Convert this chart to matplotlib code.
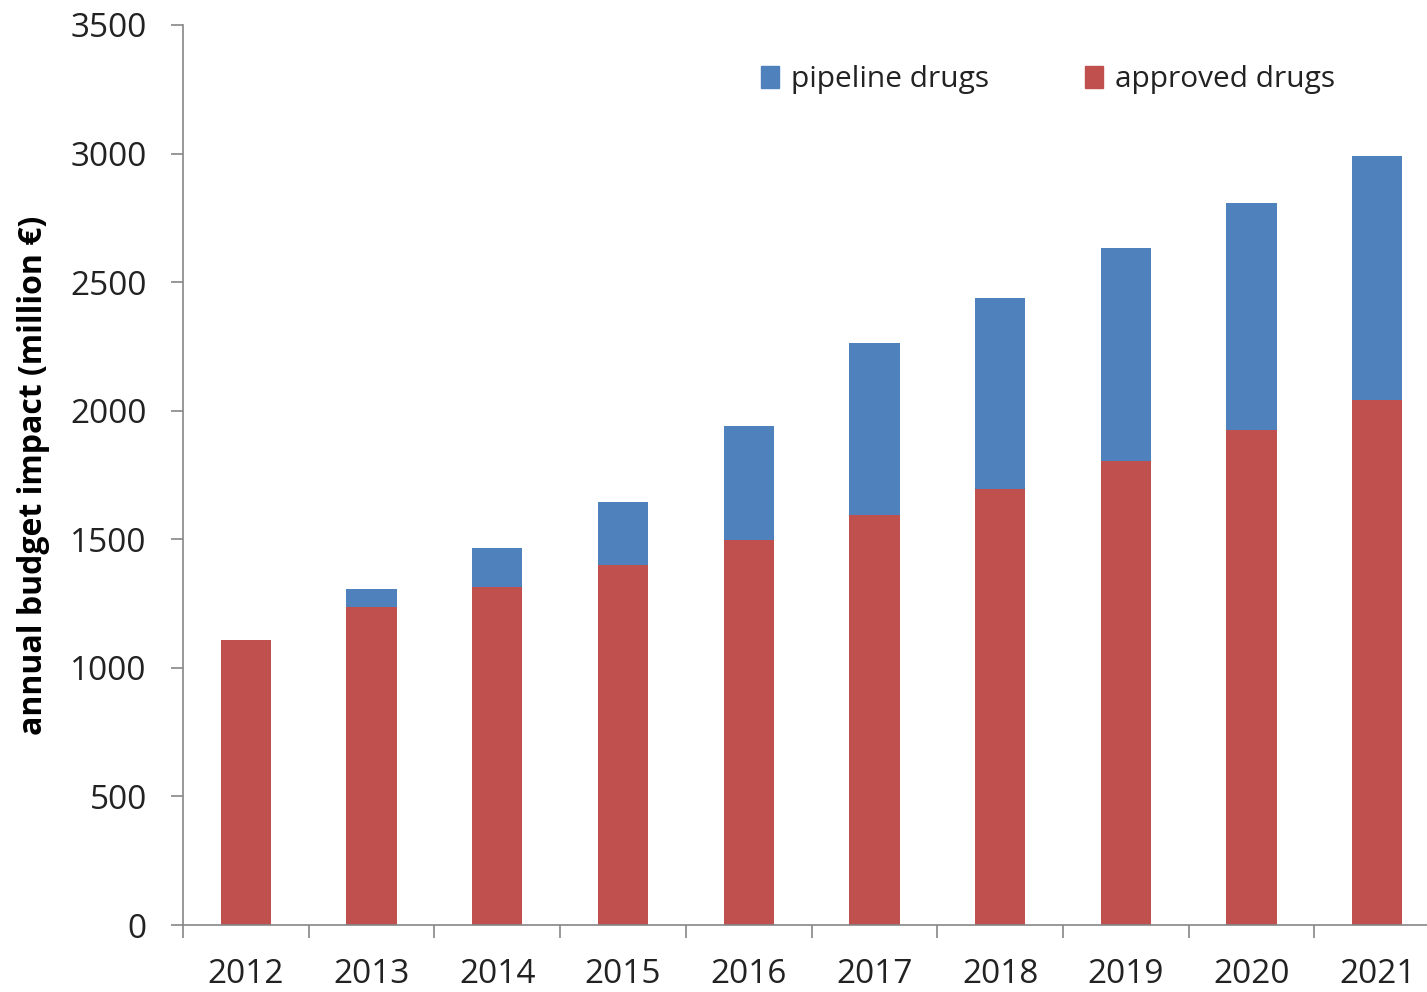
import numpy as np
import matplotlib.pyplot as plt
from matplotlib.patches import Patch

# annual budget impact, million euro
years = ["2012", "2013", "2014", "2015", "2016", "2017", "2018", "2019", "2020", "2021"]
approved = [1110, 1235, 1314, 1400, 1497, 1594, 1696, 1806, 1925, 2042]
pipeline = [0, 72, 152, 244, 444, 668, 744, 828, 881, 949]

red = "#C0504D"
blue = "#4F81BD"
grey = "#868686"

plt.rcParams['font.family'] = ['Open Sans', 'DejaVu Sans']

fig = plt.figure(figsize=(14.27, 9.92), dpi=100)
ax = fig.add_axes([0.1282, 0.0675, 0.881, 0.9073])

x = np.arange(len(years))
ax.bar(x, approved, width=0.4, color=red, zorder=2)
ax.bar(x, pipeline, width=0.4, bottom=approved, color=blue, zorder=2)

ax.set_xlim(-0.5, len(years) - 0.5)
ax.set_ylim(0, 3500)
ax.set_yticks(np.arange(0, 3501, 500))

# ticks sit between categories, labels at the bar centres
ax.set_xticks(np.arange(-0.5, len(years), 1.0))
ax.set_xticklabels([])
ax.set_xticks(x, minor=True)
ax.set_xticklabels(years, minor=True)
ax.tick_params(axis='x', which='major', length=9, width=1.2, color=grey, direction='out')
ax.tick_params(axis='x', which='minor', length=0, pad=24, labelsize=24, labelcolor="#222222")
ax.tick_params(axis='y', length=9, width=1.2, color=grey, pad=17, labelsize=24,
               labelcolor="#222222")

for side in ['top', 'right']:
    ax.spines[side].set_visible(False)
for side in ['left', 'bottom']:
    ax.spines[side].set_color(grey)
    ax.spines[side].set_linewidth(1.2)

ax.set_ylabel("annual budget impact (million €)", fontsize=23, fontweight='bold')
ax.yaxis.set_label_coords(-0.106, 0.5)

handles = [Patch(color=blue, label="pipeline drugs"),
           Patch(color=red, label="approved drugs")]
ax.legend(handles=handles, ncol=2, frameon=False, fontsize=21.5,
          handlelength=0.6, handleheight=0.8, handletextpad=0.4, columnspacing=3.2,
          loc='center', bbox_to_anchor=(0.688, 0.939), labelcolor="#222222")

fig.savefig("out.png", dpi=100)
